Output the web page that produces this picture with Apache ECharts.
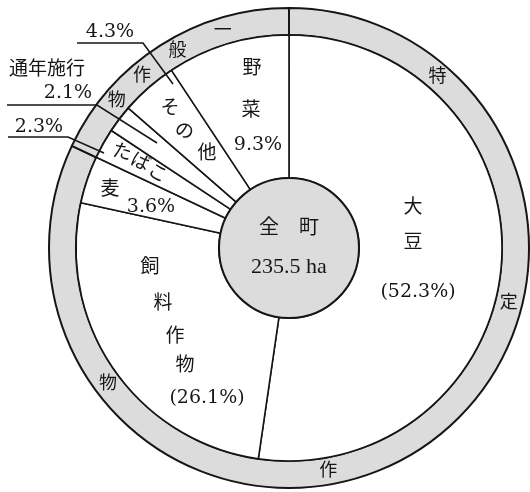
<!DOCTYPE html>
<html lang="ja">
<head>
<meta charset="UTF-8">
<title>転作作物の構成</title>
<script src="https://cdn.jsdelivr.net/npm/echarts@6/dist/echarts.min.js"></script>
</head>
<body style="margin:0;background:#fff">
<div id="container" style="width:530px;height:492px"></div>
<script>
// 作物別の割合 (%)、大豆から時計回り
var crops = ['大豆', '飼料作物', '麦', 'たばこ', '通年施行', 'その他', '野菜'];
var shares = [52.3, 26.1, 3.6, 2.3, 2.1, 4.3, 9.3];
// 外側の輪：特定作物 / 一般作物
var groups = ['特定作物', '一般作物'];
var groupShares = [82.0, 18.0];
// 中央
var totalName = '全　町';
var totalArea = 235.5;

var CX = 289, CY = 248;
var R0 = 70, R1 = 213, R2 = 240;
var FONT = '"Liberation Serif", "Noto Sans CJK JP", serif';
var NUMFONT = '"DejaVu Serif", "Noto Sans CJK JP", serif';
var INK = '#161616';
var GREY = '#dcdcdc';

var chart = echarts.init(document.getElementById('container'));

function pct(i) { return shares[i].toFixed(1) + '%'; }

// 角度(上から時計回り, 度)と半径 -> 画面座標
function polar(deg, r) {
    var a = deg * Math.PI / 180;
    return [CX + r * Math.sin(a), CY - r * Math.cos(a)];
}

function txt(s, x, y, size, rot, fam) {
    return {
        type: 'text', x: x, y: y, rotation: rot || 0, silent: true, z: 100,
        style: {
            text: s, fill: INK,
            font: (size || 19) + 'px ' + (fam || FONT),
            align: 'center', verticalAlign: 'middle',
            textAlign: 'center', textVerticalAlign: 'middle'
        }
    };
}
function num(s, x, y) { return txt(s, x, y, 19, 0, NUMFONT); }

function line(pts) {
    return {
        type: 'polyline', silent: true, z: 100,
        shape: { points: pts },
        style: { stroke: INK, lineWidth: 1.6, fill: null }
    };
}

var labels = [];
// 大豆
labels.push(txt('大', 413, 208), txt('豆', 413, 243), num('(' + pct(0) + ')', 418, 292));
// 飼料作物
labels.push(txt('飼', 150, 268), txt('料', 163, 304), txt('作', 175, 337), txt('物', 185, 366),
    num('(' + pct(1) + ')', 207, 398));
// 麦
labels.push(txt('麦', 110, 190), num(pct(2), 151, 207));
// たばこ
labels.push(txt('た', 122, 153, 19, -0.25), txt('ば', 140, 163, 19, -0.45), txt('こ', 157, 174, 19, -0.5));
// その他
labels.push(txt('そ', 170, 109), txt('の', 184, 132, 19, -0.3), txt('他', 207, 154));
// 野菜
labels.push(txt('野', 252, 69), txt('菜', 251, 111), num(pct(6), 258, 145));
// 外の注記
labels.push(num(pct(5), 110, 32), txt(crops[4], 47, 70, 19), num(pct(4), 68, 93), num(pct(3), 39, 127));
labels.push(line([[77, 43], [143, 43], [173, 84]]));
labels.push(line([[7, 105], [97, 105], [157, 143]]));
labels.push(line([[8, 137], [68, 137], [104, 153]]));

// 外輪の文字
var ringAngles = [[41, 104, 170, 233], [343, 330.5, 319.5, 310.5]];
groups.forEach(function (g, gi) {
    g.split('').forEach(function (ch, ci) {
        var p = polar(ringAngles[gi][ci], (R1 + R2) / 2);
        labels.push(txt(ch, p[0], p[1], 18));
    });
});

var option = {
    backgroundColor: '#ffffff',
    animation: false,
    series: [
        {
            type: 'pie', silent: true,
            center: [CX, CY], radius: [R1, R2],
            startAngle: 90, clockwise: true,
            label: { show: false }, labelLine: { show: false },
            itemStyle: { color: GREY, borderColor: INK, borderWidth: 2 },
            data: groups.map(function (g, i) { return { name: g, value: groupShares[i] }; })
        },
        {
            type: 'pie', silent: true,
            center: [CX, CY], radius: [R0, R1],
            startAngle: 90, clockwise: true,
            label: { show: false }, labelLine: { show: false },
            itemStyle: { color: '#ffffff', borderColor: INK, borderWidth: 1.6 },
            data: crops.map(function (c, i) { return { name: c, value: shares[i] }; })
        },
        {
            type: 'pie', silent: true,
            center: [CX, CY], radius: [0, R0],
            label: {
                show: true, position: 'center',
                formatter: '{a|' + totalName + '}\n{b|' + totalArea.toFixed(1) + ' ha}',
                rich: {
                    a: { fontFamily: FONT, fontSize: 20, color: INK, lineHeight: 38 },
                    b: { fontFamily: FONT, fontSize: 22, color: INK, lineHeight: 38 }
                }
            },
            labelLine: { show: false },
            itemStyle: { color: GREY, borderColor: INK, borderWidth: 2 },
            data: [{ name: totalName, value: totalArea }]
        }
    ],
    graphic: { elements: labels }
};
chart.setOption(option);
</script>
</body>
</html>
